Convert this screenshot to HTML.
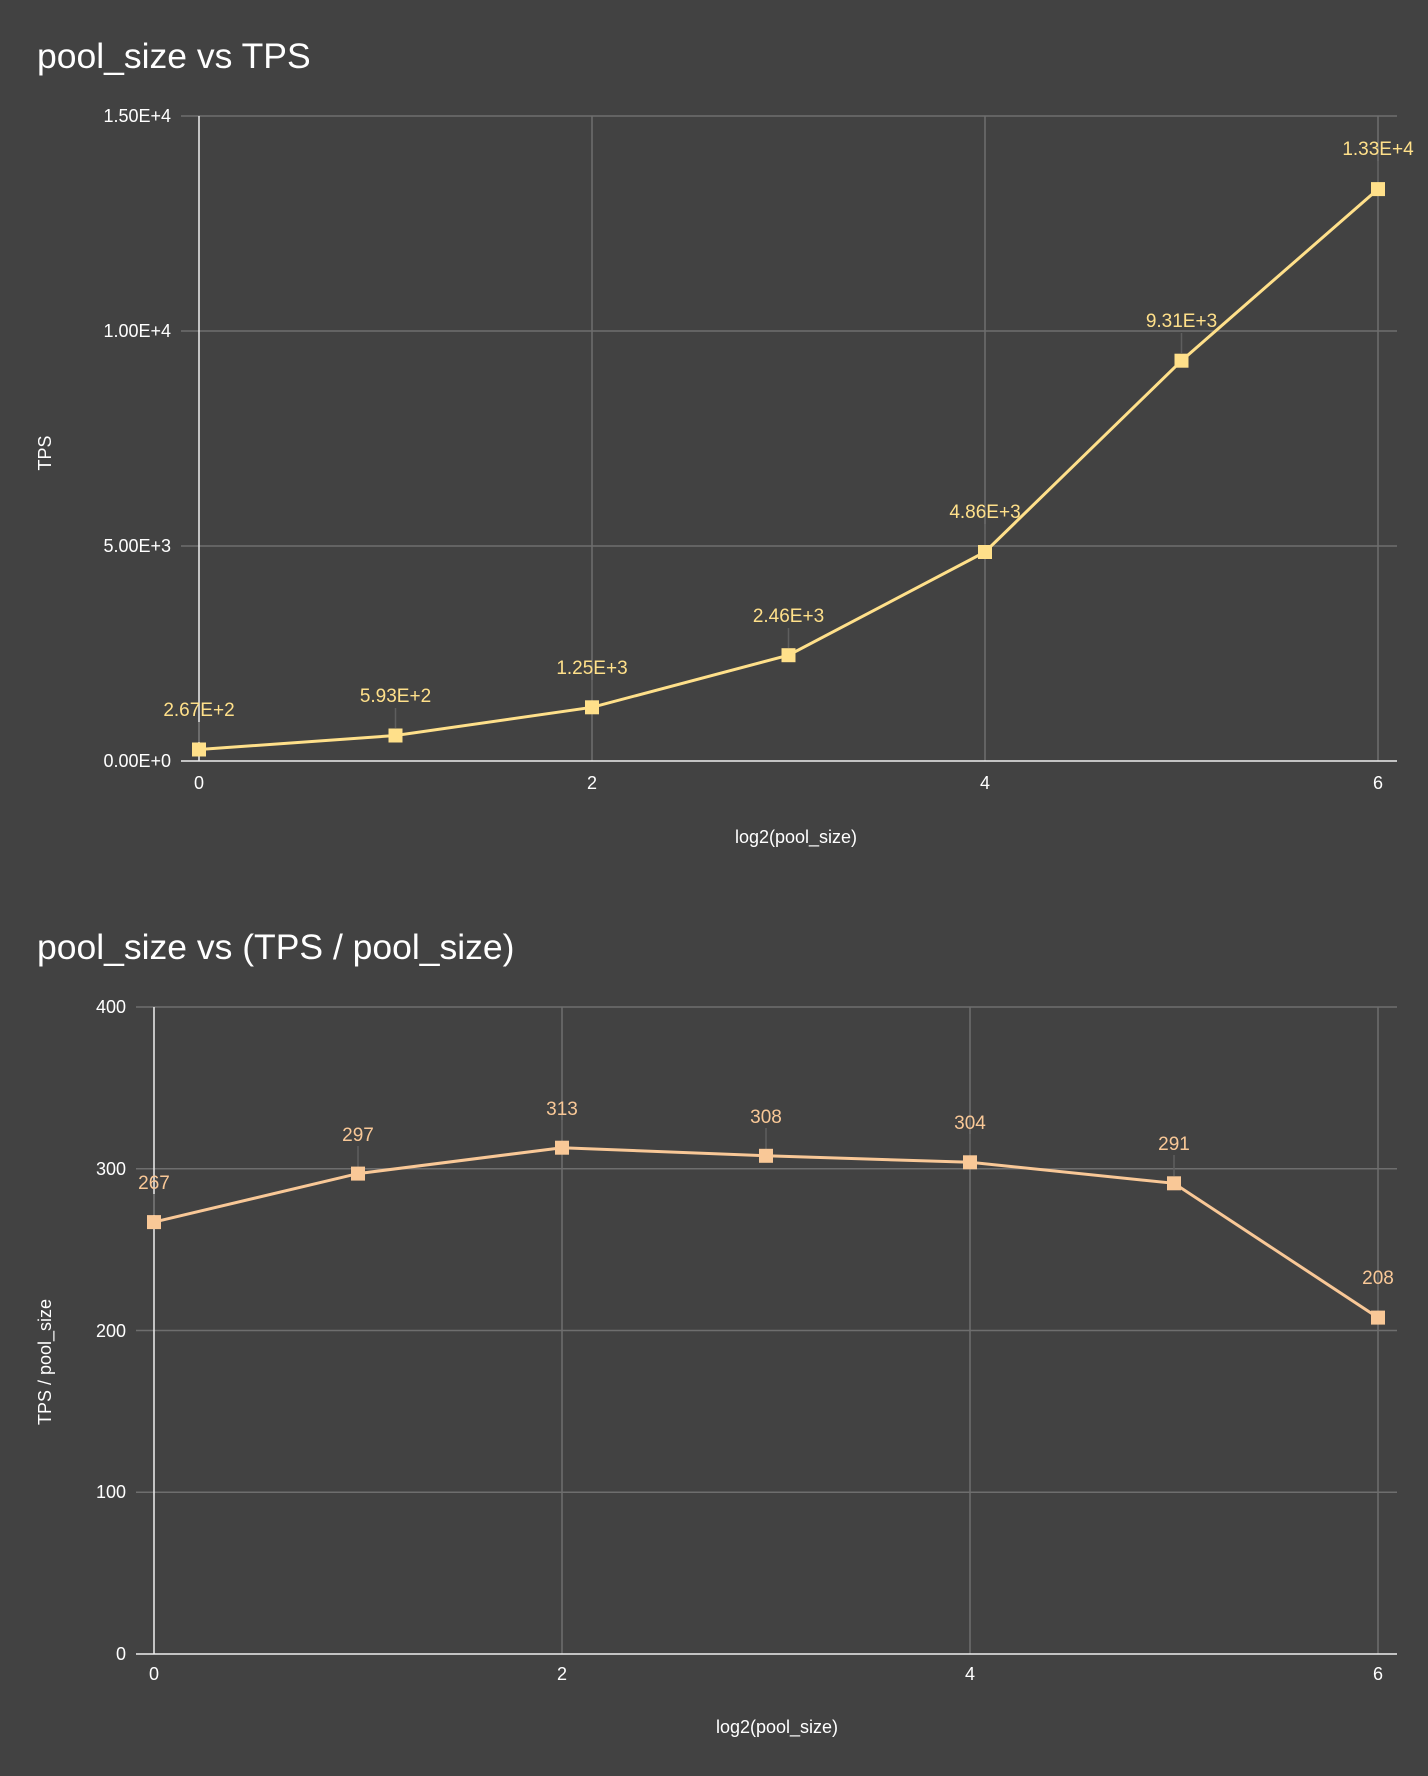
<!DOCTYPE html>
<html><head><meta charset="utf-8"><style>
html,body{margin:0;padding:0;background:#424242;}
svg{display:block;font-family:"Liberation Sans",sans-serif;}
</style></head><body>
<svg width="1428" height="1776" viewBox="0 0 1428 1776" xmlns="http://www.w3.org/2000/svg">
<rect width="1428" height="1776" fill="#424242"/>
<!-- Chart 1 -->
<text x="37" y="68" font-size="35.5" fill="#fff">pool_size vs TPS</text>
<g stroke="#6e6e6e" stroke-width="1.5">
<line x1="181" y1="116" x2="1397" y2="116"/>
<line x1="181" y1="331" x2="1397" y2="331"/>
<line x1="181" y1="546" x2="1397" y2="546"/>
<line x1="592" y1="116" x2="592" y2="761"/>
<line x1="985" y1="116" x2="985" y2="761"/>
<line x1="1378" y1="116" x2="1378" y2="761"/>
</g>
<line x1="199" y1="116" x2="199" y2="761" stroke="#eee" stroke-width="1.5"/>
<line x1="181" y1="761" x2="1397" y2="761" stroke="#eee" stroke-width="1.5"/>
<g font-size="18" fill="#fff" text-anchor="end">
<text x="171" y="122">1.50E+4</text>
<text x="171" y="337">1.00E+4</text>
<text x="171" y="552">5.00E+3</text>
<text x="171" y="767">0.00E+0</text>
</g>
<g font-size="18" fill="#fff" text-anchor="middle">
<text x="199" y="789">0</text><text x="592" y="789">2</text><text x="985" y="789">4</text><text x="1378" y="789">6</text>
<text x="796" y="843">log2(pool_size)</text>
</g>
<text transform="translate(51,453) rotate(-90)" font-size="18" fill="#fff" text-anchor="middle">TPS</text>
<g stroke="#5e5e5e" stroke-width="1.5">
<line x1="199" y1="722" x2="199" y2="742"/><line x1="395.5" y1="708" x2="395.5" y2="728"/><line x1="592" y1="680" x2="592" y2="700"/><line x1="788.5" y1="628" x2="788.5" y2="648"/><line x1="985" y1="524" x2="985" y2="545"/><line x1="1181.5" y1="333" x2="1181.5" y2="353"/><line x1="1378" y1="161" x2="1378" y2="182"/>
</g>
<polyline fill="none" stroke="#ffe08a" stroke-width="3" points="199,749.5 395.5,735.5 592,707.3 788.5,655.2 985,552 1181.5,360.7 1378,189.1"/>
<g fill="#ffe08a">
<rect x="192" y="742.5" width="14" height="14"/><rect x="388.5" y="728.5" width="14" height="14"/><rect x="585" y="700.3" width="14" height="14"/><rect x="781.5" y="648.2" width="14" height="14"/><rect x="978" y="545" width="14" height="14"/><rect x="1174.5" y="353.7" width="14" height="14"/><rect x="1371" y="182.1" width="14" height="14"/>
</g>
<g font-size="19" fill="#ffe08a" text-anchor="middle">
<text x="199" y="716">2.67E+2</text><text x="395.5" y="702">5.93E+2</text><text x="592" y="674">1.25E+3</text><text x="788.5" y="622">2.46E+3</text><text x="985" y="518">4.86E+3</text><text x="1181.5" y="327">9.31E+3</text><text x="1378" y="155">1.33E+4</text>
</g>
<!-- Chart 2 -->
<text x="37" y="959" font-size="35.5" fill="#fff">pool_size vs (TPS / pool_size)</text>
<g stroke="#6e6e6e" stroke-width="1.5">
<line x1="136" y1="1007" x2="1397" y2="1007"/>
<line x1="136" y1="1168.8" x2="1397" y2="1168.8"/>
<line x1="136" y1="1330.5" x2="1397" y2="1330.5"/>
<line x1="136" y1="1492.3" x2="1397" y2="1492.3"/>
<line x1="562" y1="1007" x2="562" y2="1654"/>
<line x1="970" y1="1007" x2="970" y2="1654"/>
<line x1="1378" y1="1007" x2="1378" y2="1654"/>
</g>
<line x1="154" y1="1007" x2="154" y2="1654" stroke="#eee" stroke-width="1.5"/>
<line x1="136" y1="1654" x2="1397" y2="1654" stroke="#eee" stroke-width="1.5"/>
<g font-size="18" fill="#fff" text-anchor="end">
<text x="126" y="1013">400</text><text x="126" y="1175">300</text><text x="126" y="1337">200</text><text x="126" y="1498">100</text><text x="126" y="1660">0</text>
</g>
<g font-size="18" fill="#fff" text-anchor="middle">
<text x="154" y="1680">0</text><text x="562" y="1680">2</text><text x="970" y="1680">4</text><text x="1378" y="1680">6</text>
<text x="777" y="1733">log2(pool_size)</text>
</g>
<text transform="translate(51,1362) rotate(-90)" font-size="18" fill="#fff" text-anchor="middle">TPS / pool_size</text>
<g stroke="#5e5e5e" stroke-width="1.5">
<line x1="154" y1="1194" x2="154" y2="1215"/><line x1="358" y1="1146" x2="358" y2="1167"/><line x1="562" y1="1120" x2="562" y2="1141"/><line x1="766" y1="1128" x2="766" y2="1149"/><line x1="970" y1="1134" x2="970" y2="1155"/><line x1="1174" y1="1155" x2="1174" y2="1176"/><line x1="1378" y1="1290" x2="1378" y2="1311"/>
</g>
<polyline fill="none" stroke="#f9c897" stroke-width="3" points="154,1222.1 358,1173.6 562,1147.7 766,1155.8 970,1162.3 1174,1183.3 1378,1317.6"/>
<g fill="#f9c897">
<rect x="147" y="1215.1" width="14" height="14"/><rect x="351" y="1166.6" width="14" height="14"/><rect x="555" y="1140.7" width="14" height="14"/><rect x="759" y="1148.8" width="14" height="14"/><rect x="963" y="1155.3" width="14" height="14"/><rect x="1167" y="1176.3" width="14" height="14"/><rect x="1371" y="1310.6" width="14" height="14"/>
</g>
<g font-size="19" fill="#f9c897" text-anchor="middle">
<text x="154" y="1189">267</text><text x="358" y="1141">297</text><text x="562" y="1115">313</text><text x="766" y="1123">308</text><text x="970" y="1129">304</text><text x="1174" y="1150">291</text><text x="1378" y="1284">208</text>
</g>
</svg>
</body></html>
